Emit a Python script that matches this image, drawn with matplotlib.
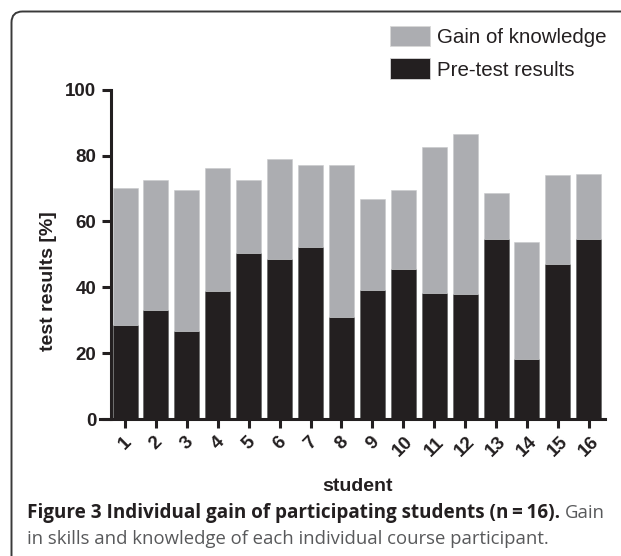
import numpy as np
import matplotlib
matplotlib.use("Agg")
import matplotlib.pyplot as plt
from matplotlib.patches import FancyBboxPatch, Patch

# values (percent)
students = [str(i) for i in range(1, 17)]
pre_test = [28.4, 33.0, 26.7, 38.9, 50.3, 48.5, 52.1, 30.9,
            39.3, 45.4, 38.4, 37.9, 54.6, 18.3, 47.1, 54.7]
total = [70.0, 72.5, 69.4, 76.1, 72.5, 78.8, 77.2, 77.2,
         66.8, 69.4, 82.5, 86.4, 68.5, 53.8, 74.1, 74.5]
gain = [t - p for t, p in zip(total, pre_test)]

dark = "#231f20"
grey = "#acadb1"

plt.rcParams['font.family'] = ['Liberation Sans', 'DejaVu Sans']

fig = plt.figure(figsize=(6.21, 5.56), dpi=100)
ax = fig.add_axes([0.1787, 0.2464, 0.7953, 0.5923])

x = np.arange(1, len(students) + 1)
ax.bar(x, pre_test, width=0.81, color=dark, edgecolor="#5a5a5a", linewidth=0.4)
ax.bar(x, gain, width=0.81, bottom=pre_test, color=grey, edgecolor="#c8c9cc", linewidth=0.4)

ax.set_xlim(0.545, 16.52)
ax.set_ylim(0, 100)
ax.set_yticks([0, 20, 40, 60, 80, 100])
ax.set_xticks(x)
ax.set_xticklabels(students, rotation=45, ha='center')

for s in ['top', 'right']:
    ax.spines[s].set_visible(False)
for s in ['left', 'bottom']:
    ax.spines[s].set_linewidth(2.2)
    ax.spines[s].set_color(dark)
ax.spines['bottom'].set_bounds(0.2, 16.52)

ax.tick_params(axis='both', width=2.2, length=6.5, color=dark, labelcolor=dark, labelsize=13.5)
ax.tick_params(axis='y', pad=4)
ax.tick_params(axis='x', pad=4)
for lab in ax.get_xticklabels() + ax.get_yticklabels():
    lab.set_fontweight('bold')

ax.set_ylabel('test results [%]', fontsize=14, fontweight='bold', color=dark)
ax.yaxis.set_label_coords(-0.109, 0.42)
ax.set_xlabel('student', fontsize=14, fontweight='bold', color=dark)
ax.xaxis.set_label_coords(0.5, -0.18)

handles = [Patch(facecolor=grey, edgecolor="#d8d8d8", linewidth=0.6),
           Patch(facecolor=dark, edgecolor="#d8d8d8", linewidth=0.6)]
fig.legend(handles, ['Gain of knowledge', 'Pre-test results'],
           loc='upper left', bbox_to_anchor=(390 / 621, 1 - 26 / 556),
           frameon=False, fontsize=14.8, borderpad=0, borderaxespad=0,
           handlelength=1.95, handleheight=1.15, handletextpad=0.35,
           labelspacing=0.55, labelcolor=dark)

# rounded frame around the figure panel
frame = FancyBboxPatch((0.115, -0.5), 7.0, 5.56 - 0.115 + 0.5,
                       boxstyle="round,pad=0,rounding_size=0.11",
                       transform=fig.dpi_scale_trans, facecolor='none',
                       edgecolor='#3a3a3a', linewidth=1.4, clip_on=False)
fig.patches.append(frame)

# caption
cap_font = ['Open Sans', 'DejaVu Sans']
t1 = fig.text(27 / 621, 1 - 513 / 556, 'Figure 3 Individual gain of participating students (n\u2009=\u200916).',
              family=cap_font, fontsize=13.6, fontweight='bold', color='#231f20', va='center', ha='left')
fig.canvas.draw()
bb = t1.get_window_extent()
fig.text(bb.x1 / 621 + 0.008, 1 - 513 / 556, 'Gain', family=cap_font, fontsize=13.3,
         color='#58595b', va='center', ha='left')
fig.text(27 / 621, 1 - 539 / 556, 'in skills and knowledge of each individual course participant.',
         family=cap_font, fontsize=13.3, color='#58595b', va='center', ha='left')

fig.savefig('out.png', dpi=100)
